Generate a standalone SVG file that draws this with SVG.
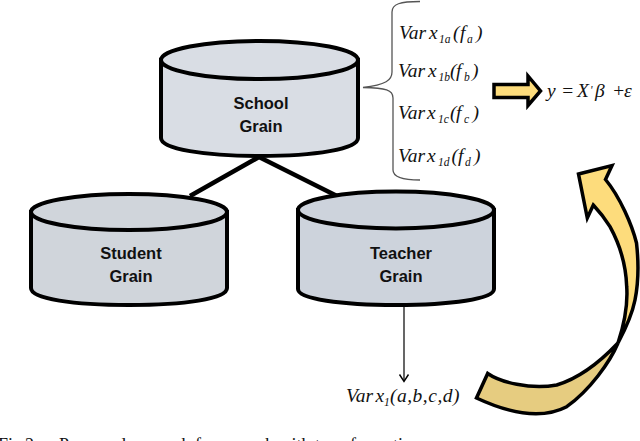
<svg xmlns="http://www.w3.org/2000/svg" width="640" height="441" viewBox="0 0 640 441">
<style>
.cyl{stroke:#000;stroke-width:4}
.c1{fill:#d9dde4}
.c2{fill:#d0d5db}
.c3{fill:#cdd3dc}
.lbl{font:bold 16.500px "Liberation Sans",Arial,sans-serif;fill:#111;text-anchor:middle}
.m{font:italic 19.500px "Liberation Serif","Times New Roman",serif;fill:#111}
.s{font-size:11.500px}
.cap{font:18px "Liberation Serif","Times New Roman",serif;fill:#111}
.arr{stroke:#000;stroke-width:3.500;stroke-linejoin:miter}
</style>
<rect width="640" height="441" fill="#fff"/>
<g id="connectors">
<path d="M259 157L190 196M259 157L337 196" fill="none" stroke="#000" stroke-width="4.500"/>
<path d="M404 306V381" fill="none" stroke="#000" stroke-width="1.200"/>
<path d="M399.500 374.500L404 381.500L408.500 374.500" fill="none" stroke="#000" stroke-width="1.400"/>
<path d="M420 1.500C400 1.500 392 4 392 12V72C392 80 386 85 363 87.500C386 88 393 90 393 98V170C393 176 399 180 420 180" fill="none" stroke="#555" stroke-width="1.300"/>
</g>
<g id="school">
<path class="cyl c1" d="M161 60V138C161 149 205 156 260 156C315 156 358 149 358 138V60Z"/>
<ellipse class="cyl c1" cx="259.500" cy="60" rx="98.500" ry="19"/>
<text class="lbl" x="261" y="109">School</text><text class="lbl" x="261" y="132">Grain</text>
</g>
<g id="student">
<path class="cyl c2" d="M31 212V288C31 299 74 305 129 305C184 305 227 299 227 288V212Z"/>
<ellipse class="cyl c2" cx="129" cy="212" rx="98" ry="18"/>
<text class="lbl" x="131" y="259">Student</text><text class="lbl" x="131" y="282">Grain</text>
</g>
<g id="teacher">
<path class="cyl c3" d="M298 210V289C298 299 341 305 396 305C451 305 494 299 494 289V210Z"/>
<ellipse class="cyl c3" cx="396" cy="210" rx="98" ry="18.500"/>
<text class="lbl" x="401" y="259">Teacher</text><text class="lbl" x="401" y="282">Grain</text>
</g>
<g id="vars">
<text class="m" y="39"><tspan x="399">Var</tspan><tspan x="429">x</tspan><tspan class="s" x="439" dy="4">1a</tspan><tspan x="453" dy="-4">(</tspan><tspan x="460">f</tspan><tspan class="s" x="467" dy="4">a</tspan><tspan x="476" dy="-4">)</tspan></text>
<text class="m" y="77"><tspan x="398">Var</tspan><tspan x="428">x</tspan><tspan class="s" x="438.500" dy="4">1b</tspan><tspan x="450" dy="-4">(</tspan><tspan x="456">f</tspan><tspan class="s" x="464" dy="4">b</tspan><tspan x="472" dy="-4">)</tspan></text>
<text class="m" y="119"><tspan x="398">Var</tspan><tspan x="427">x</tspan><tspan class="s" x="438" dy="4">1c</tspan><tspan x="450" dy="-4">(</tspan><tspan x="456">f</tspan><tspan class="s" x="464" dy="4">c</tspan><tspan x="472.500" dy="-4">)</tspan></text>
<text class="m" y="162"><tspan x="398">Var</tspan><tspan x="427">x</tspan><tspan class="s" x="438" dy="4">1d</tspan><tspan x="451.500" dy="-4">(</tspan><tspan x="458">f</tspan><tspan class="s" x="465" dy="4">d</tspan><tspan x="474" dy="-4">)</tspan></text>
<text class="m" y="97"><tspan x="547">y</tspan><tspan x="561">=</tspan><tspan x="577">X</tspan><tspan x="590" dy="-3" class="s">'</tspan><tspan x="595" dy="3">β</tspan><tspan x="612">+</tspan><tspan x="624">ε</tspan></text>
<text class="m" y="401.500"><tspan x="346">Var</tspan><tspan x="375.500">x</tspan><tspan class="s" x="384" dy="4">1</tspan><tspan x="390" dy="-4" letter-spacing="0.500">(a,b,c,d)</tspan></text>
</g>
<g id="arrows">
<path class="arr" fill="#fddc7c" d="M494 84.500H528V76L540.500 91L528 105.500V97.500H494Z"/>
<path class="arr" fill="#e6cc80" d="M487.700 373.500C500 382 530 390 556.700 385C580 378 600 362 618 343C610 362 590 390 566.700 406.700C545 418 515 416 476.500 398Z"/>
<path class="arr" fill="#fddc7c" d="M578.500 174L612 165.500L605.500 179.500C620 197 632 225 636.500 243C639 265 638 285 635 300C632 315 626 328 618 343C624 325 628 305 626.700 286.700C626 265 620 245 610 226.700C604 217 598 210 593.300 205L587.300 218Z"/>
</g>
<text class="cap" y="451"><tspan x="-2">Fig.</tspan><tspan x="25">2.</tspan><tspan x="59">Proposed research framework with transformation</tspan></text>
</svg>
